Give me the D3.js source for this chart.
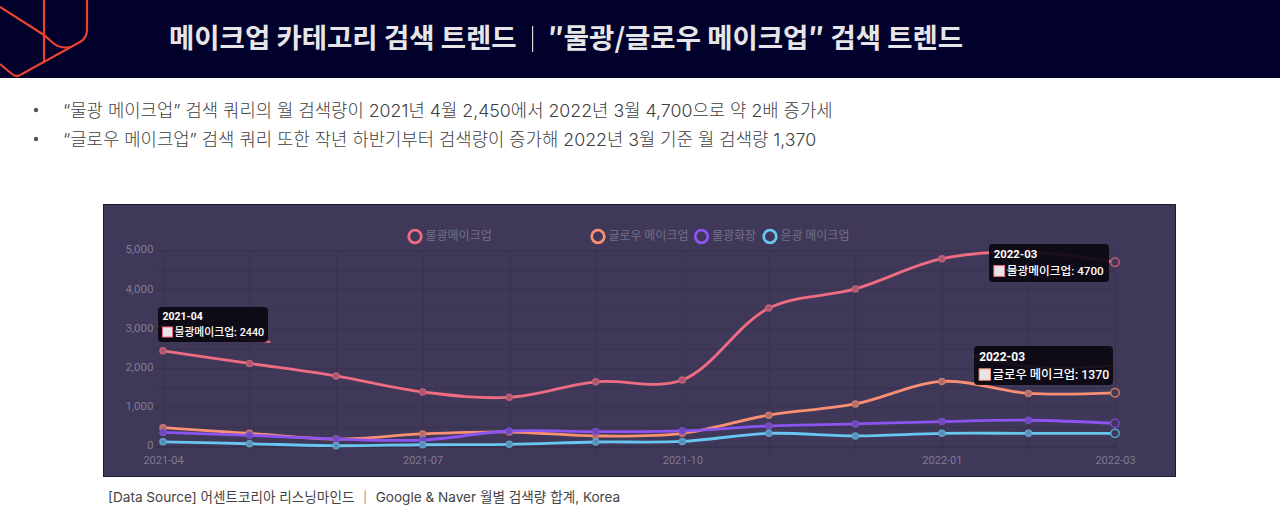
<!DOCTYPE html>
<html>
<head>
<meta charset="utf-8">
<script src="https://cdn.jsdelivr.net/npm/d3@7"></script>
<style>
  html, body { margin: 0; padding: 0; background: #fff; overflow: hidden; }
  text { font-family: Inter, "Noto Sans CJK KR", sans-serif; }
  .tick text { font-family: Roboto, "Noto Sans", sans-serif; }
  .title text, text.title { font-family: "Noto Sans CJK KR", sans-serif; }
  text.tip { font-family: Roboto, "Noto Sans CJK KR", sans-serif; }
  text.legend { font-family: "Noto Sans CJK KR", sans-serif; }
</style>
</head>
<body>
<div id="chart"></div>
<script>
var months = ["2021-04","2021-05","2021-06","2021-07","2021-08","2021-09","2021-10","2021-11","2021-12","2022-01","2022-02","2022-03"];
var xTickLabels = ["2021-04","2021-07","2021-10","2022-01","2022-03"];
var yTicks = [0,500,1000,1500,2000,2500,3000,3500,4000,4500,5000];

var seriesNames = ["물광메이크업","글로우 메이크업","물광화장","윤광 메이크업"];
var mulgwang = [2440,2120,1800,1390,1255,1650,1695,3530,4020,4790,4960,4700];
var glow = [480,335,190,320,370,270,335,800,1085,1660,1355,1370];
var mulgwangHwajang = [360,285,190,165,395,380,400,525,575,635,670,590];
var yungwang = [120,70,20,45,55,115,130,335,270,335,335,335];
var seriesColors = ["#f06c82","#fa8f74","#8c54f0","#68c6f0"];
var allSeries = [mulgwang, glow, mulgwangHwajang, yungwang];

// leftovers of the old line that show through the tooltips, [month index, value]
var ghostPink = [[-0.06,3075],[0.6,2860],[1.24,2665]];
var ghostOrange = [[9.37,2310],[10.02,2036],[10.97,2054]];

var tooltips = [
  {title:"2021-04", label:"물광메이크업: 2440", s:0, k:1, x:158, y:307, w:110, h:35},
  {title:"2022-03", label:"물광메이크업: 4700", s:0, k:1.08, x:989, y:244, w:120, h:38},
  {title:"2022-03", label:"글로우 메이크업: 1370", s:1, k:1.14, x:974, y:346, w:139, h:39}
];

var w = 1280, h = 530;
var svg = d3.select("#chart").append("svg").attr("width", w).attr("height", h);

// header
svg.append("rect").attr("width", w).attr("height", 78).attr("fill", "#01012b");
svg.append("clipPath").attr("id", "headClip").append("rect").attr("width", w).attr("height", 78);

var logo = svg.append("g").attr("clip-path", "url(#headClip)")
  .attr("fill", "none").attr("stroke", "#e8432f").attr("stroke-width", 2.2);
logo.append("path").attr("d", "M87,0 V30 Q87,38 80,42 L22,74 Q17,78 12,74 L0,64");
logo.append("path").attr("d", "M44,0 V62");
logo.append("path").attr("d", "M0,7 L44,35 L53,43 Q60,49 71,47");

svg.append("text").attr("class", "title")
  .attr("x", 169).attr("y", 48)
  .attr("font-size", 27.5).attr("font-weight", 700)
  .attr("fill", "#e6e6e8")
  .text("메이크업 카테고리 검색 트렌드");
svg.append("rect").attr("x", 532).attr("y", 26).attr("width", 1.2).attr("height", 26).attr("fill", "#d8d8dc");
svg.append("text").attr("class", "title")
  .attr("x", 548).attr("y", 48)
  .attr("font-size", 27.5).attr("font-weight", 700)
  .attr("fill", "#e6e6e8")
  .text("″물광/글로우 메이크업″ 검색 트렌드");

// bullets
var bullets = [
  "“물광 메이크업” 검색 쿼리의 월 검색량이 2021년 4월 2,450에서 2022년 3월 4,700으로 약 2배 증가세",
  "“글로우 메이크업” 검색 쿼리 또한 작년 하반기부터 검색량이 증가해 2022년 3월 기준 월 검색량 1,370"
];
bullets.forEach(function(t, i) {
  var y = 117 + i * 29;
  svg.append("circle").attr("cx", 36).attr("cy", y - 7).attr("r", 2.2).attr("fill", "#555");
  svg.append("text").attr("x", 63).attr("y", y)
    .attr("font-size", 17.75).attr("font-weight", 300).attr("fill", "#404040")
    .text(t);
});

// panel
svg.append("rect").attr("x", 103.5).attr("y", 204.5).attr("width", 1072).attr("height", 272)
  .attr("fill", "#3f3858").attr("stroke", "#1d1a30");

var xScale = d3.scalePoint().domain(months).range([163, 1115]);
var yScale = d3.scaleLinear().domain([0, 5000]).range([446.5, 250.5]);
var xIdx = d3.scaleLinear().domain([0, months.length - 1]).range([163, 1115]);

var gridColor = "#39334f";

var xAxis = d3.axisBottom(xScale)
  .tickValues(months)
  .tickSize(-202.5)
  .tickPadding(3)
  .tickFormat(function(d) { return xTickLabels.indexOf(d) >= 0 ? d : ""; });
var gx = svg.append("g").attr("transform", "translate(0,453)").call(xAxis);

var yAxis = d3.axisLeft(yScale)
  .tickValues(yTicks)
  .tickSize(960)
  .tickFormat(function(d) { return d % 1000 === 0 ? d3.format(",")(d) : ""; });
var gy = svg.append("g").attr("transform", "translate(1115,0)").call(yAxis);

[gx, gy].forEach(function(g) {
  g.select(".domain").remove();
  g.selectAll(".tick line").attr("stroke", gridColor).attr("stroke-width", 1);
  g.selectAll(".tick text").attr("fill", "#7f7a95").attr("font-size", 11);
});
gy.selectAll(".tick text").attr("text-anchor", "end").attr("x", -961.5).attr("dy", "0.2em").attr("font-size", 11.5);
gy.selectAll(".tick").filter(function(d) { return d === 0; }).select("line").attr("stroke", "#312c48");

// legend
var legendX = [415, 598, 701.5, 770];
seriesNames.forEach(function(name, i) {
  svg.append("circle").attr("cx", legendX[i]).attr("cy", 236.5).attr("r", 6.3)
    .attr("fill", "#3f3858").attr("stroke", seriesColors[i]).attr("stroke-width", 2.8);
  svg.append("text").attr("class", "legend").attr("x", legendX[i] + 10.5).attr("y", 239.5)
    .attr("font-size", 12).attr("fill", "#75708c").text(name);
});

// lines
var line = d3.line()
  .x(function(d, i) { return xScale(months[i]); })
  .y(function(d) { return yScale(d); })
  .curve(d3.curveCatmullRom.alpha(0.5));

var ghostLine = d3.line()
  .x(function(d) { return xIdx(d[0]); })
  .y(function(d) { return yScale(d[1]); })
  .curve(d3.curveCatmullRom.alpha(0.5));

allSeries.forEach(function(values, s) {
  svg.append("path").datum(values)
    .attr("d", line).attr("fill", "none")
    .attr("stroke", seriesColors[s]).attr("stroke-width", 2.8);
});

[[ghostPink, seriesColors[0]], [ghostOrange, seriesColors[1]]].forEach(function(g) {
  svg.append("path").datum(g[0]).attr("d", ghostLine).attr("fill", "none")
    .attr("stroke", g[1]).attr("stroke-width", 2.2);
});

// points are drawn over all the lines
allSeries.forEach(function(values, s) {
  var dim = d3.interpolateRgb(seriesColors[s], "#3f3858");
  svg.selectAll(".pt" + s).data(values).enter().append("circle")
    .attr("cx", function(d, i) { return xScale(months[i]); })
    .attr("cy", function(d) { return yScale(d); })
    .attr("r", function(d, i) { return i === months.length - 1 ? 4.2 : 3; })
    .attr("fill", function(d, i) { return i === months.length - 1 ? "#3f3858" : dim(0.4); })
    .attr("stroke", function(d, i) { return i === months.length - 1 ? d3.color(seriesColors[s]).darker(0.5) : dim(0.25); })
    .attr("stroke-width", 1.5);
});

// tooltips
tooltips.forEach(function(t) {
  svg.append("rect").attr("x", t.x).attr("y", t.y).attr("width", t.w).attr("height", t.h)
    .attr("rx", 4).attr("fill", "#0a0810").attr("fill-opacity", 0.92);
  svg.append("text").attr("class", "tip").attr("x", t.x + 4.5 * t.k).attr("y", t.y + 13 * t.k)
    .attr("font-size", 10.5 * t.k).attr("font-weight", 700).attr("fill", "#fff").text(t.title);
  svg.append("rect").attr("x", t.x + 4.5 * t.k).attr("y", t.y + 20 * t.k)
    .attr("width", 10 * t.k).attr("height", 10 * t.k)
    .attr("fill", "#e6e6e6").attr("stroke", seriesColors[t.s]).attr("stroke-width", 1);
  svg.append("text").attr("class", "tip").attr("x", t.x + 16.5 * t.k).attr("y", t.y + 29 * t.k)
    .attr("font-size", 10.8 * t.k).attr("font-weight", 500).attr("fill", "#fff").text(t.label);
});

// source
svg.append("text").attr("x", 108).attr("y", 502)
  .attr("font-size", 13.6).attr("fill", "#444")
  .text("[Data Source] 어센트코리아 리스닝마인드 │ Google & Naver 월별 검색량 합계, Korea");
</script>
</body>
</html>
